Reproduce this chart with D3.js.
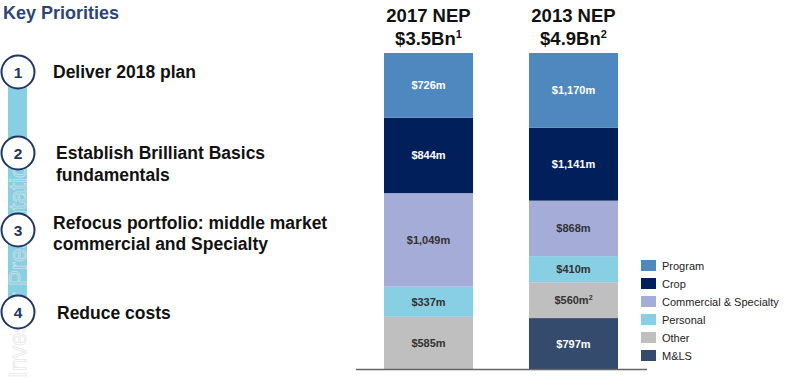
<!DOCTYPE html>
<html>
<head>
<meta charset="utf-8">
<script src="https://cdn.jsdelivr.net/npm/d3@7"></script>
<style>
  body { margin: 0; background: #fff; }
  svg { font-family: "Liberation Sans", Arial, sans-serif; display: block; }
</style>
</head>
<body>
<svg id="chart" width="787" height="386"></svg>
<script>
// Data
const years = ["2017", "2013"];
const totals = ["$3.5Bn", "$4.9Bn"];
const totalNotes = ["1", "2"];
const segments = ["M&LS", "Other", "Personal", "Commercial & Specialty", "Crop", "Program"];
const values2017 = [0, 585, 337, 1049, 844, 726];
const values2013 = [797, 560, 410, 868, 1141, 1170];
const labels2017 = ["", "$585m", "$337m", "$1,049m", "$844m", "$726m"];
const labels2013 = ["$797m", "$560m", "$410m", "$868m", "$1,141m", "$1,170m"];
const labelNotes2013 = ["", "2", "", "", "", ""];
const legendOrder = ["Program", "Crop", "Commercial & Specialty", "Personal", "Other", "M&LS"];
const priorities = [
  ["Deliver 2018 plan"],
  ["Establish Brilliant Basics", "fundamentals"],
  ["Refocus portfolio: middle market", "commercial and Specialty"],
  ["Reduce costs"]
];

const colors = {
  "Program": "#4f88bf",
  "Crop": "#001f5b",
  "Commercial & Specialty": "#a5acd8",
  "Personal": "#88cfe3",
  "Other": "#bfbfbf",
  "M&LS": "#344b6e"
};
const darkSegs = new Set(["Program", "Crop", "M&LS"]);

const svg = d3.select("#chart");

// ---------- left panel ----------
const left = svg.append("g");

left.append("text")
  .attr("x", 3).attr("y", 19)
  .attr("font-size", 18).attr("font-weight", "bold")
  .attr("fill", "#2b4676")
  .text("Key Priorities");

const circleY = [72, 153, 230, 312];
const textX = [53, 56, 53, 57];
const textY = [[78], [159, 181], [229, 250], [319]];

left.append("rect")
  .attr("x", 8).attr("y", circleY[0])
  .attr("width", 19).attr("height", circleY[3] - circleY[0])
  .attr("fill", "#88cfe3");

// faint watermark, drawn over the connector bar
left.append("text")
  .attr("transform", "translate(26,378) rotate(-90)")
  .attr("font-size", 24)
  .attr("fill", "none")
  .attr("stroke", "#e2e2e2")
  .attr("stroke-opacity", 0.8)
  .attr("stroke-width", 0.8)
  .text("Investor Presentation");

const items = left.selectAll("g.item").data(priorities).join("g").attr("class", "item");
items.append("circle")
  .attr("cx", 18).attr("cy", (d, i) => circleY[i]).attr("r", 16.5)
  .attr("fill", "#fff").attr("stroke", "#1f3564").attr("stroke-width", 2);
items.append("text")
  .attr("x", 18).attr("y", (d, i) => circleY[i] + 5.5)
  .attr("text-anchor", "middle")
  .attr("font-size", 15.5).attr("font-weight", "bold").attr("fill", "#1f3564")
  .text((d, i) => i + 1);
items.each(function (d, i) {
  const g = d3.select(this);
  d.forEach((line, j) => {
    g.append("text")
      .attr("x", textX[i]).attr("y", textY[i][j])
      .attr("font-size", 17.5).attr("font-weight", "bold").attr("fill", "#111")
      .text(line);
  });
});

// ---------- stacked bars ----------
const rows = years.map((y, i) => {
  const vals = i === 0 ? values2017 : values2013;
  const r = { year: y };
  segments.forEach((s, k) => r[s] = vals[k]);
  return r;
});
const labelSets = [labels2017, labels2013];
const noteSets = [segments.map(() => ""), labelNotes2013];

const stack = d3.stack().keys(segments).offset(d3.stackOffsetExpand);
const series = stack(rows);

const x = d3.scaleBand().domain(years).range([369.5, 632.5]).paddingInner(0.386).paddingOuter(0.1);
const y = d3.scaleLinear().domain([0, 1]).range([369, 53]);

const bars = svg.append("g");
series.forEach((s, k) => {
  const key = s.key;
  s.forEach((d, i) => {
    if (d[1] - d[0] <= 0) return;
    bars.append("rect")
      .attr("x", x(years[i]))
      .attr("y", y(d[1]))
      .attr("width", x.bandwidth())
      .attr("height", y(d[0]) - y(d[1]))
      .attr("fill", colors[key]);
    const t = bars.append("text")
      .attr("x", x(years[i]) + x.bandwidth() / 2)
      .attr("y", (y(d[0]) + y(d[1])) / 2 + 4)
      .attr("text-anchor", "middle")
      .attr("font-size", 11).attr("font-weight", "bold")
      .attr("fill", darkSegs.has(key) ? "#fff" : "#333")
      .text(labelSets[i][k]);
    if (noteSets[i][k]) {
      t.append("tspan").attr("font-size", 7).attr("dy", -4).text(noteSets[i][k]);
    }
  });
});

// baseline
svg.append("line")
  .attr("x1", 356).attr("x2", 647).attr("y1", 369.5).attr("y2", 369.5)
  .attr("stroke", "#666").attr("stroke-width", 1.5);

// headers
years.forEach((yr, i) => {
  const cx = x(yr) + x.bandwidth() / 2;
  svg.append("text")
    .attr("x", cx).attr("y", 22)
    .attr("text-anchor", "middle")
    .attr("font-size", 18.5).attr("font-weight", "bold").attr("fill", "#111")
    .text(yr + " NEP");
  const t = svg.append("text")
    .attr("x", cx).attr("y", 45)
    .attr("text-anchor", "middle")
    .attr("font-size", 18.5).attr("font-weight", "bold").attr("fill", "#111")
    .text(totals[i]);
  t.append("tspan").attr("font-size", 11).attr("dy", -7).text(totalNotes[i]);
});

// legend
const legend = svg.append("g");
const ly = d3.scalePoint().domain(legendOrder).range([266, 356]);
legendOrder.forEach(k => {
  legend.append("rect")
    .attr("x", 641).attr("y", ly(k) - 6)
    .attr("width", 15).attr("height", 11)
    .attr("fill", colors[k]);
  legend.append("text")
    .attr("x", 662).attr("y", ly(k) + 4)
    .attr("font-size", 11).attr("fill", "#222")
    .text(k);
});
</script>
</body>
</html>
